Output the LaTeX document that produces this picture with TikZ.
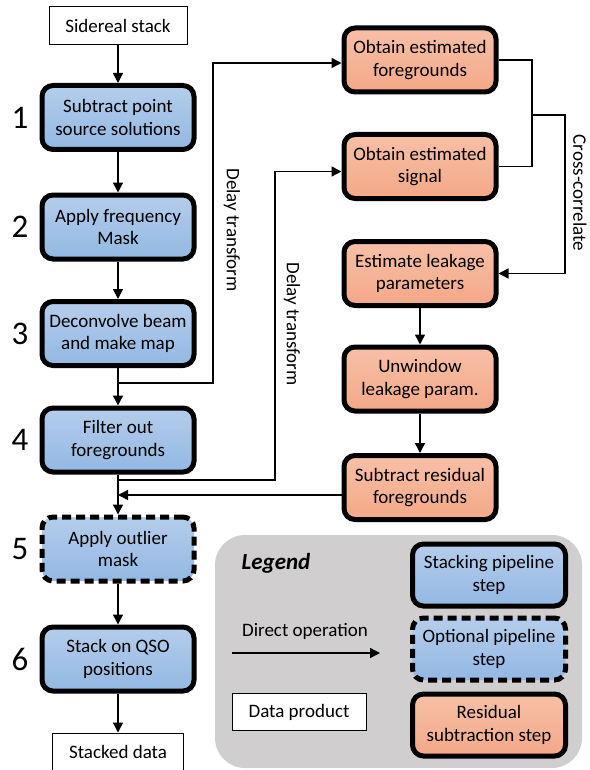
\documentclass[tikz,border=0pt]{standalone}
\usepackage{fontspec}
\setmainfont{Carlito}
\usetikzlibrary{arrows.meta}
\definecolor{bluetop}{RGB}{181,205,235}
\definecolor{bluebot}{RGB}{146,184,227}
\definecolor{orangetop}{RGB}{247,192,166}
\definecolor{orangebot}{RGB}{244,168,136}
\definecolor{legendgray}{RGB}{208,206,206}
\begin{document}
\begin{tikzpicture}[x=1pt, y=-1pt,
    font=\fontsize{19}{22.5}\selectfont,
    stepbox/.style={draw, line width=5pt, rounded corners=11pt, align=center,
        minimum width=152, minimum height=64, inner sep=1pt,
        top color=bluetop, bottom color=bluebot},
    optbox/.style={stepbox, dash pattern=on 9pt off 5pt},
    resbox/.style={stepbox, top color=orangetop, bottom color=orangebot},
    databox/.style={draw, line width=1pt, fill=white, align=center,
        minimum height=38, inner sep=2pt},
    conn/.style={line width=1.4pt, -{Triangle[length=10pt, width=10pt]}},
    line/.style={line width=1.4pt},
    num/.style={font=\fontsize{33}{36}\selectfont}]
    \useasboundingbox (0,0) rectangle (589,770);

    % legend background
    \fill[legendgray, rounded corners=30pt] (215,535) rectangle (582,768);

    % main pipeline
    \node[databox, minimum width=138] (side) at (118,26) {Sidereal stack};
    \node[stepbox] (s1) at (118,117.5) {Subtract point\\source solutions};
    \node[stepbox] (s2) at (118,227) {Apply frequency\\Mask};
    \node[stepbox] (s3) at (118,333.5) {Deconvolve beam\\and make map};
    \node[stepbox] (s4) at (118,440) {Filter out\\foregrounds};
    \node[optbox] (s5) at (118,549) {Apply outlier\\mask};
    \node[stepbox] (s6) at (118,659) {Stack on QSO\\positions};
    \node[databox, minimum width=131] (stk) at (118,752) {Stacked data};

    \node[num] (n1) at (20,117.5) {1};
    \node[num] (n2) at (20,227) {2};
    \node[num] (n3) at (20,333.5) {3};
    \node[num] (n4) at (20,440) {4};
    \node[num] (n5) at (20,549) {5};
    \node[num] (n6) at (20,659) {6};

    % residual subtraction
    \node[resbox] (r1) at (420,60) {Obtain estimated\\foregrounds};
    \node[resbox] (r2) at (420,166.5) {Obtain estimated\\signal};
    \node[resbox] (r3) at (420,273.5) {Estimate leakage\\parameters};
    \node[resbox] (r4) at (420,379) {Unwindow\\leakage param.};
    \node[resbox] (r5) at (420,487.5) {Subtract residual\\foregrounds};

    \coordinate (j1) at (118,383);
    \coordinate (j2) at (118,480);
    \coordinate (j3) at (118,495);
    \coordinate (cc) at (532,115);

    \draw[conn] (side) -- (s1);
    \draw[conn] (s1) -- (s2);
    \draw[conn] (s2) -- (s3);
    \draw[conn] (s3) -- (s4);
    \draw[conn] (s4) -- (s5);
    \draw[conn] (s5) -- (s6);
    \draw[conn] (s6) -- (stk);

    \draw[conn] (j1) -- ++(95,0) |- ([yshift=-3pt]r1.west);
    \draw[conn] (j2) -- ++(157,0) |- ([yshift=-5pt]r2.west);
    \draw[conn] (r5.west |- j3) -- (j3);

    \draw[line] (r1.east) -| (cc) |- (r2.east);
    \draw[conn] (cc) -- ++(33,0) |- (r3.east);
    \draw[conn] (r3) -- (r4);
    \draw[conn] (r4) -- (r5);

    \node[rotate=-90] (dt1) at (232,230) {Delay transform};
    \node[rotate=-90] (dt2) at (292,324) {Delay transform};
    \node[rotate=-90] (xc) at (580,193) {Cross-correlate};

    % legend
    \node[font=\fontsize{23}{26}\selectfont] (leg) at (276,563) {\bfseries\itshape Legend};
    \node[stepbox, minimum width=153, minimum height=62] (l1) at (489,575) {Stacking pipeline\\step};
    \node[optbox, minimum width=153, minimum height=62] (l2) at (489,649) {Optional pipeline\\step};
    \node[resbox, minimum width=153, minimum height=62] (l3) at (489,725) {Residual\\subtraction step};
    \node (dop) at (305,631) {Direct operation};
    \coordinate (da) at (232,653);
    \coordinate (db) at (380,653);
    \draw[conn] (da) -- (db);
    \node[databox, minimum width=134, minimum height=37] (dp) at (299,712) {Data product};
\end{tikzpicture}
\end{document}
